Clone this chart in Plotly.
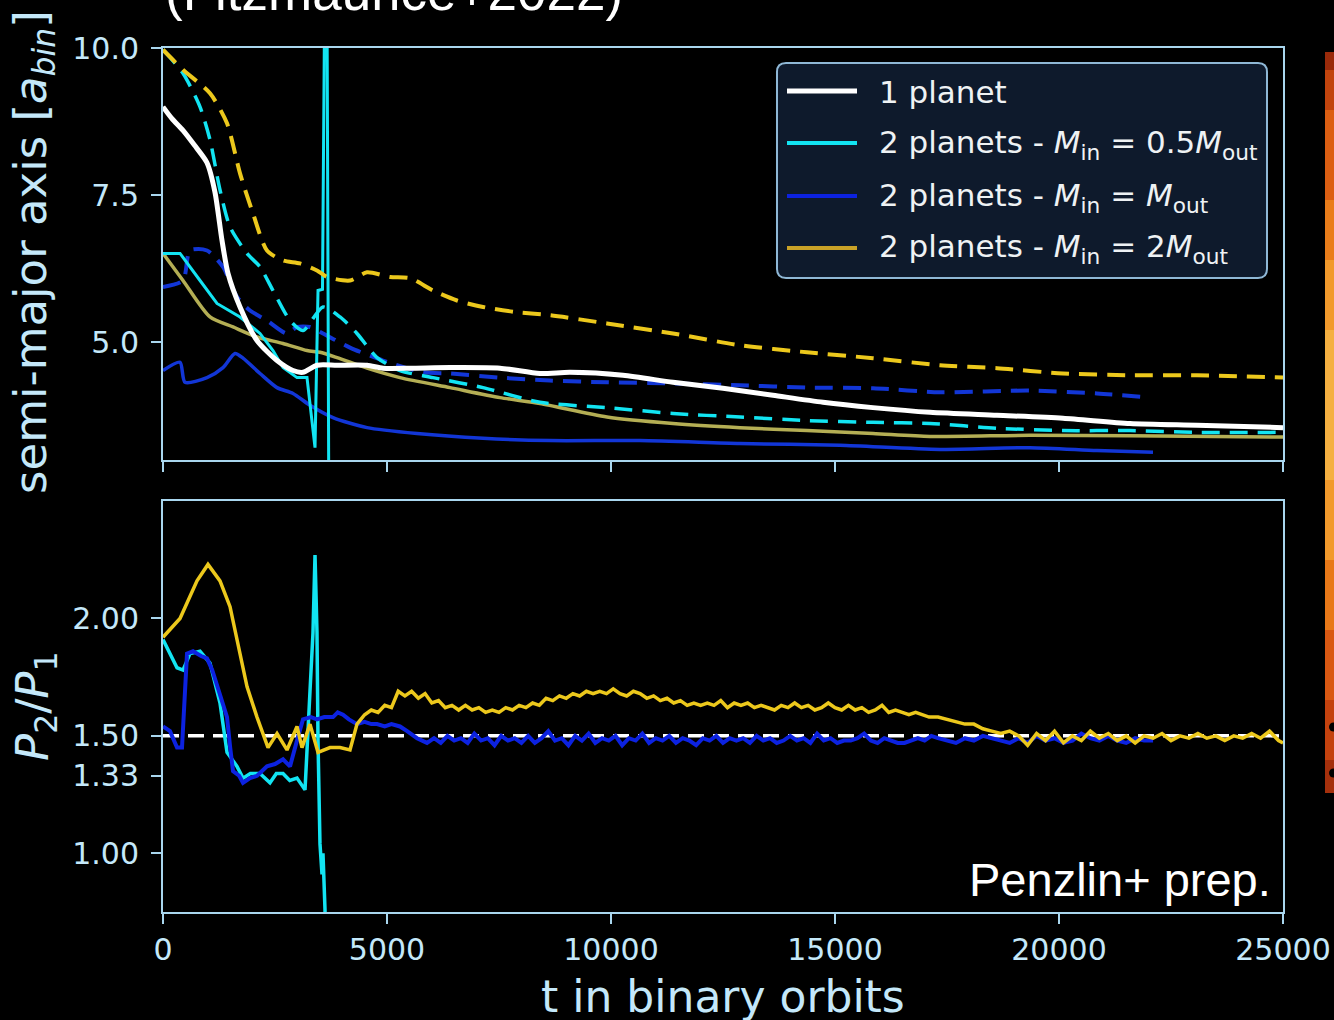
import plotly.graph_objects as go

# ---------------- data ----------------
# top panel: semi-major axis [a_bin] vs t (binary orbits)
white_t = [0, 200, 446, 700, 982, 1160, 1317, 1451, 1719, 2098, 2545, 2902, 3125, 3437, 3884, 4554,
           4911, 5513, 6406, 7522, 8415, 9085, 10268, 11384, 12500, 13616, 14732, 15848, 17121, 18616,
           20089, 21585, 23080, 25000]
white_a = [9.0, 8.8, 8.6, 8.35, 8.05, 7.55, 6.73, 6.17, 5.6, 5.03, 4.69, 4.52, 4.49, 4.61, 4.61, 4.61,
           4.56, 4.56, 4.57, 4.56, 4.47, 4.49, 4.44, 4.32, 4.22, 4.10, 3.98, 3.89, 3.81, 3.76,
           3.71, 3.62, 3.59, 3.55]

cyan_in_t = [0, 380, 826, 1205, 1719, 2165, 2455, 2679, 2991, 3214, 3393, 3460, 3560, 3610, 3660, 3700]
cyan_in_a = [6.51, 6.51, 6.05, 5.66, 5.43, 5.15, 4.86, 4.57, 4.40, 4.40, 3.21, 5.88, 5.9, 11.0, 11.0, 2.5]

cyan_out_t = [0, 446, 826, 1049, 1272, 1496, 1875, 2165, 2455, 2835, 3125, 3571, 3951, 4330, 4777,
              5290, 6027, 7143, 8415, 9910, 11384, 12879, 14375, 15848, 17121, 18616, 20089, 21585,
              23080, 25000]
cyan_out_a = [9.97, 9.57, 9.0, 8.44, 7.59, 6.96, 6.51, 6.28, 5.88, 5.37, 5.2, 5.6, 5.43, 5.15, 4.74,
              4.52, 4.40, 4.23, 3.98, 3.89, 3.79, 3.73, 3.67, 3.64, 3.62, 3.54, 3.50, 3.50,
              3.47, 3.47]

blue_in_t = [0, 380, 491, 982, 1339, 1607, 1786, 2165, 2545, 2902, 3281, 3795, 4554, 5670, 7143,
             8638, 10647, 12879, 15112, 17344, 19353, 20848, 22098]
blue_in_a = [4.52, 4.66, 4.32, 4.40, 4.57, 4.81, 4.73, 4.47, 4.23, 4.13, 3.93, 3.72, 3.55, 3.45, 3.37,
             3.33, 3.33, 3.28, 3.25, 3.18, 3.21, 3.16, 3.13]

blue_out_t = [0, 446, 603, 982, 1339, 1652, 1942, 2321, 2768, 2991, 3281, 3571, 4174, 4911, 5804,
              6406, 7522, 8638, 9910, 11384, 12879, 14375, 15848, 17344, 19353, 20848, 22031]
blue_out_a = [5.94, 6.05, 6.56, 6.56, 6.28, 5.77, 5.54, 5.37, 5.15, 5.26, 5.26, 5.15, 4.91, 4.69, 4.49,
              4.47, 4.40, 4.35, 4.32, 4.30, 4.27, 4.23, 4.22, 4.15, 4.18, 4.13, 4.06]

yel_in_t = [0, 446, 1049, 1563, 2098, 2679, 3214, 3504, 3884, 4554, 5290, 6406, 7522, 8415, 9910,
            11384, 12879, 14375, 15848, 17121, 19353, 21585, 25000]
yel_in_a = [6.51, 6.05, 5.43, 5.26, 5.09, 4.98, 4.86, 4.83, 4.74, 4.56, 4.40, 4.23, 4.06, 3.96, 3.73,
            3.62, 3.55, 3.50, 3.45, 3.40, 3.42, 3.41, 3.39]

yel_out_t = [0, 446, 1049, 1429, 1719, 2009, 2321, 2679, 3058, 3437, 3661, 4174, 4554, 5067, 5513,
             6027, 6562, 7143, 7902, 8638, 9910, 11384, 12879, 14375, 15848, 17344, 18616, 20089,
             21585, 23080, 25000]
yel_out_a = [9.97, 9.63, 9.23, 8.72, 7.87, 7.19, 6.56, 6.39, 6.34, 6.22, 6.11, 6.05, 6.19, 6.11, 6.09,
             5.88, 5.71, 5.60, 5.51, 5.46, 5.32, 5.15, 4.95, 4.83, 4.73, 4.61, 4.56, 4.47,
             4.44, 4.44, 4.40]

# bottom panel: period ratio P2/P1
res_t = [0, 25000]
res_p = [1.5, 1.5]

pc_t = [0, 313, 446, 603, 826, 1049, 1272, 1429, 1652, 1786, 1950, 2165, 2388, 2530, 2679, 2830, 2991,
        3170, 3281, 3348, 3393, 3437, 3460, 3504, 3549, 3571, 3616, 3640]
pc_p = [1.91, 1.79, 1.78, 1.85, 1.86, 1.81, 1.64, 1.43, 1.37, 1.32, 1.34, 1.34, 1.30, 1.34, 1.34, 1.31,
        1.32, 1.27, 1.69, 1.94, 2.27, 1.94, 1.48, 1.04, 0.91, 1.0, 0.76, 0.5]

pb_t = [0, 156, 313, 424, 536, 670, 850, 982, 1100, 1205, 1300, 1429, 1500, 1563, 1700, 1786, 1942,
        2100, 2321, 2500, 2679, 2835, 2991, 3125, 3300, 3437, 3600, 3795, 3900, 4018, 4150, 4330, 4500,
        4650, 4777, 4950, 5100, 5290, 5450, 5670, 5893, 6050, 6200, 6350, 6500, 6650, 6800, 6950,
        7100, 7250, 7400, 7550, 7700, 7850, 8000, 8150, 8300, 8450, 8600, 8750, 8900, 9050, 9200,
        9350, 9500, 9650, 9800, 9950, 10100, 10250, 10400, 10550, 10700, 10850, 11000, 11150, 11300,
        11450, 11600, 11750, 11900, 12050, 12200, 12350, 12500, 12650, 12800, 12950, 13100, 13250,
        13400, 13550, 13700, 13850, 14000, 14150, 14300, 14450, 14600, 14750, 14900, 15050, 15200,
        15350, 15500, 15650, 15800, 15950, 16100, 16250, 16400, 16550, 16700, 16850, 17000, 17150,
        17300, 17500, 17700, 17900, 18100, 18300, 18500, 18700, 18900, 19100, 19300, 19500, 19700,
        19900, 20100, 20300, 20500, 20700, 20900, 21100, 21300, 21500, 21700, 21900, 22100]
pb_p = [1.54, 1.52, 1.45, 1.45, 1.85, 1.86, 1.84, 1.83, 1.78, 1.72, 1.66, 1.58, 1.45, 1.35, 1.33, 1.30,
        1.32, 1.33, 1.37, 1.38, 1.40, 1.37, 1.48, 1.57, 1.58, 1.57, 1.58, 1.58, 1.60, 1.59, 1.57, 1.55,
        1.56, 1.55, 1.55, 1.54, 1.55, 1.54, 1.52, 1.49, 1.47, 1.49, 1.47, 1.50, 1.48, 1.49, 1.47, 1.51,
        1.48, 1.49, 1.46, 1.50, 1.48, 1.49, 1.47, 1.50, 1.47, 1.49, 1.52, 1.48, 1.49, 1.46, 1.50,
        1.48, 1.51, 1.47, 1.49, 1.48, 1.50, 1.46, 1.49, 1.48, 1.51, 1.47, 1.49, 1.48, 1.50,
        1.47, 1.49, 1.48, 1.46, 1.49, 1.48, 1.50, 1.47, 1.49, 1.48, 1.49, 1.47, 1.50,
        1.48, 1.49, 1.47, 1.48, 1.50, 1.48, 1.49, 1.47, 1.51, 1.48, 1.49, 1.47, 1.48,
        1.48, 1.49, 1.51, 1.48, 1.47, 1.49, 1.48, 1.47, 1.47, 1.48, 1.49, 1.48, 1.50,
        1.49, 1.48, 1.47, 1.49, 1.48, 1.50, 1.49, 1.48, 1.47, 1.49, 1.47, 1.50, 1.48,
        1.49, 1.47, 1.48, 1.51, 1.49, 1.48, 1.50, 1.48, 1.47, 1.49, 1.48, 1.48]

py_t = [0, 380, 759, 1004, 1272, 1496, 1875, 2098, 2344, 2545, 2768, 2991, 3103, 3281, 3460, 3728,
        3951, 4174, 4330, 4500, 4650, 4800, 4950, 5100, 5250, 5400, 5550, 5700, 5850, 6000, 6150,
        6300, 6450, 6600, 6750, 6900, 7050, 7200, 7350, 7500, 7650, 7800, 7950, 8100, 8250, 8400,
        8550, 8700, 8850, 9000, 9150, 9300, 9450, 9600, 9750, 9900, 10050, 10200, 10350, 10500,
        10650, 10800, 10950, 11100, 11250, 11400, 11550, 11700, 11850, 12000, 12150, 12300, 12450,
        12600, 12750, 12900, 13050, 13200, 13350, 13500, 13650, 13800, 13950, 14100, 14250, 14400,
        14550, 14700, 14850, 15000, 15150, 15300, 15450, 15600, 15750, 15900, 16050, 16200, 16350,
        16500, 16650, 16800, 16950, 17100, 17300, 17500, 17700, 17900, 18100, 18300, 18500, 18700,
        18900, 19100, 19300, 19500, 19700, 19900, 20100, 20300, 20500, 20700, 20900, 21100, 21300,
        21500, 21700, 21900, 22100, 22300, 22500, 22700, 22900, 23100, 23300, 23500, 23700, 23900,
        24100, 24300, 24500, 24700, 24900, 25000]
py_p = [1.92, 2.0, 2.16, 2.23, 2.16, 2.05, 1.71, 1.58, 1.45, 1.51, 1.44, 1.54, 1.45, 1.55, 1.43, 1.45,
        1.45, 1.44, 1.55, 1.59, 1.61, 1.60, 1.63, 1.62, 1.69, 1.67, 1.69, 1.66, 1.68, 1.64, 1.65,
        1.62, 1.63, 1.61, 1.63, 1.61, 1.62, 1.60, 1.61, 1.60, 1.62, 1.61, 1.63, 1.62, 1.64, 1.63,
        1.66, 1.65, 1.67, 1.66, 1.68, 1.67, 1.69, 1.68, 1.69, 1.68, 1.70, 1.68, 1.67, 1.69,
        1.68, 1.66, 1.67, 1.65, 1.66, 1.64, 1.65, 1.63, 1.64, 1.63, 1.64, 1.63, 1.65,
        1.62, 1.64, 1.63, 1.64, 1.62, 1.63, 1.62, 1.61, 1.63, 1.62, 1.64, 1.62, 1.63,
        1.61, 1.62, 1.64, 1.62, 1.61, 1.63, 1.61, 1.62, 1.60, 1.61, 1.63, 1.60, 1.61,
        1.60, 1.59, 1.60, 1.59, 1.58, 1.58, 1.57, 1.56, 1.55, 1.55, 1.53, 1.52, 1.51,
        1.52, 1.50, 1.46, 1.51, 1.48, 1.52, 1.47, 1.50, 1.48, 1.52, 1.49, 1.51, 1.48,
        1.50, 1.47, 1.50, 1.49, 1.51, 1.48, 1.50, 1.49, 1.51, 1.49, 1.50, 1.48, 1.50,
        1.49, 1.51, 1.49, 1.52, 1.48, 1.47]

x_ticks = [0, 5000, 10000, 15000, 20000, 25000]
a_ticks = [5.0, 7.5, 10.0]
a_ticktext = ["5.0", "7.5", "10.0"]
p_ticks = [1.0, 1.33, 1.5, 2.0]
p_ticktext = ["1.00", "1.33", "1.50", "2.00"]

legend_labels = [
    "1 planet",
    "2 planets - <i>M</i><sub>in</sub> = 0.5<i>M</i><sub>out</sub>",
    "2 planets - <i>M</i><sub>in</sub> = <i>M</i><sub>out</sub>",
    "2 planets - <i>M</i><sub>in</sub> = 2<i>M</i><sub>out</sub>",
]

# ---------------- styling ----------------
WHITE = "#ffffff"
CYAN = "#12e4f2"
BLUE = "#0c22e0"
BLUE_TOP = "#1236d6"
YEL = "#ecc81c"
OLIVE = "#b4ae54"
LEG_YEL = "#c9a227"
AX = "#a9d6ee"
TXT = "#c4e8fa"
FONT = "DejaVu Sans"
DASH = "18px,10px"

W, H = 1334, 1020
L, R, T, B = 163, 51, 48, 108
PW = W - L - R
PH = H - T - B


def fx(xp):
    return (xp - L) / PW


def fy(yp):
    return (H - B - yp) / PH


fig = go.Figure()

# top panel traces
def top(t, a, color, width=3, dash=None, shape="spline"):
    fig.add_trace(go.Scatter(x=t, y=a, mode="lines", xaxis="x2", yaxis="y2", showlegend=False,
                             line=dict(color=color, width=width, dash=dash, shape=shape,
                                       smoothing=0.7 if shape == "spline" else None)))

top(blue_in_t, blue_in_a, BLUE_TOP, 3.5)
top(blue_out_t, blue_out_a, BLUE_TOP, 4, DASH)
top(yel_in_t, yel_in_a, OLIVE, 3.5)
top(cyan_in_t, cyan_in_a, CYAN, 3, shape="linear")
top(cyan_out_t, cyan_out_a, CYAN, 3.5, DASH)
top(yel_out_t, yel_out_a, YEL, 4, DASH)
top(white_t, white_a, WHITE, 5)

# bottom panel traces
def bot(t, p, color, width=3, dash=None):
    fig.add_trace(go.Scatter(x=t, y=p, mode="lines", xaxis="x", yaxis="y", showlegend=False,
                             line=dict(color=color, width=width, dash=dash)))

bot(res_t, res_p, WHITE, 3.5, "16px,9px")
bot(pc_t, pc_p, CYAN, 3.5)
bot(pb_t, pb_p, BLUE, 4)
bot(py_t, py_p, YEL, 3.5)

axis_common = dict(showline=True, linecolor=AX, linewidth=2, mirror=True, ticks="outside",
                   ticklen=10, tickwidth=2, tickcolor=AX, showgrid=False, zeroline=False,
                   automargin=False, tickfont=dict(family=FONT, size=30, color=TXT))

DOM_TOP = fy(460)
DOM_BOT = fy(501)

fig.update_layout(
    width=W, height=H, autosize=False,
    margin=dict(l=L, r=R, t=T, b=B, pad=0, autoexpand=False),
    paper_bgcolor="black", plot_bgcolor="black",
    showlegend=False,
    xaxis=dict(**axis_common, range=[0, 25000], tickvals=x_ticks, ticktext=[str(v) for v in x_ticks],
               anchor="y", ticklabelstandoff=0),
    xaxis2=dict(**axis_common, range=[0, 25000], tickvals=x_ticks, showticklabels=False,
                anchor="y2", matches="x"),
    yaxis=dict(**axis_common, domain=[0, DOM_BOT], range=[0.75, 2.5], tickvals=p_ticks,
               ticktext=p_ticktext, anchor="x", ticklabelstandoff=6),
    yaxis2=dict(**axis_common, domain=[DOM_TOP, 1], range=[3.0, 10.0], tickvals=a_ticks,
                ticktext=a_ticktext, anchor="x2", ticklabelstandoff=6),
)

shapes = []
annotations = []

# manual legend box (rounded)
x0, x1, y0, y1, r = 777, 1267, 63, 278, 9
def P(xp, yp):
    return f"{fx(xp):.5f},{fy(yp):.5f}"
path = (f"M {P(x0 + r, y0)} L {P(x1 - r, y0)} Q {P(x1, y0)} {P(x1, y0 + r)} "
        f"L {P(x1, y1 - r)} Q {P(x1, y1)} {P(x1 - r, y1)} L {P(x0 + r, y1)} "
        f"Q {P(x0, y1)} {P(x0, y1 - r)} L {P(x0, y0 + r)} Q {P(x0, y0)} {P(x0 + r, y0)} Z")
shapes.append(dict(type="path", path=path, xref="paper", yref="paper",
                   fillcolor="#0e1a2c", line=dict(color="#8fb8d6", width=2), layer="above"))

leg_colors = [WHITE, CYAN, BLUE, LEG_YEL]
leg_widths = [5, 4, 4, 4]
leg_y = [91, 143, 196, 248]
for lab, col, lw, yy in zip(legend_labels, leg_colors, leg_widths, leg_y):
    shapes.append(dict(type="line", xref="paper", yref="paper", x0=fx(787), x1=fx(857),
                       y0=fy(yy), y1=fy(yy), line=dict(color=col, width=lw), layer="above"))
    annotations.append(dict(text=lab, xref="paper", yref="paper", x=fx(877), y=fy(yy + 1),
                            xanchor="left", yanchor="middle", showarrow=False,
                            font=dict(family=FONT, size=31, color="#eef2f4")))

# axis titles
annotations.append(dict(text="semi-major axis [<i>a</i><sub><i>bin</i></sub>]", textangle=-90,
                        xref="paper", yref="paper", x=fx(33), y=fy(252), xanchor="center",
                        yanchor="middle", showarrow=False,
                        font=dict(family=FONT, size=45, color=TXT)))
annotations.append(dict(text="<i>P</i><sub>2</sub>/<i>P</i><sub>1</sub>", textangle=-90,
                        xref="paper", yref="paper", x=fx(35), y=fy(706), xanchor="center",
                        yanchor="middle", showarrow=False,
                        font=dict(family=FONT, size=45, color=TXT)))
annotations.append(dict(text="t in binary orbits", xref="paper", yref="paper", x=fx(723),
                        y=fy(996), xanchor="center", yanchor="middle", showarrow=False,
                        font=dict(family=FONT, size=44, color=TXT)))

# slide texts
annotations.append(dict(text="Penzlin+ prep.", xref="paper", yref="paper", x=fx(1273), y=fy(879),
                        xanchor="right", yanchor="middle", showarrow=False,
                        font=dict(family="Liberation Sans", size=47, color="white")))
annotations.append(dict(text="(Fitzmaurice+2022)", xref="paper", yref="paper", x=fx(163), y=fy(-8),
                        xanchor="left", yanchor="middle", showarrow=False,
                        font=dict(family="Liberation Sans", size=53, color="white")))

# orange image strip at the right edge (part of the slide)
strip = [(52, 70, "#9a2a0a"), (70, 110, "#c2440d"), (110, 200, "#dc5e12"), (200, 260, "#ea7d1a"),
         (260, 330, "#f29a2c"), (330, 480, "#f5b041"), (480, 560, "#f29a2c"), (560, 630, "#e87818"),
         (630, 700, "#d95812"), (700, 760, "#c4420e"), (760, 793, "#a5300c")]
for ya, yb, c in strip:
    shapes.append(dict(type="rect", xref="paper", yref="paper", x0=fx(1325), x1=fx(1335),
                       y0=fy(yb), y1=fy(ya), fillcolor=c, line=dict(width=0), layer="above"))
for yc in [727, 773]:
    shapes.append(dict(type="circle", xref="paper", yref="paper", x0=fx(1329), x1=fx(1338),
                       y0=fy(yc + 4.5), y1=fy(yc - 4.5), fillcolor="black", line=dict(width=0),
                       layer="above"))

fig.update_layout(shapes=shapes, annotations=annotations)
fig.write_html("out.html")
